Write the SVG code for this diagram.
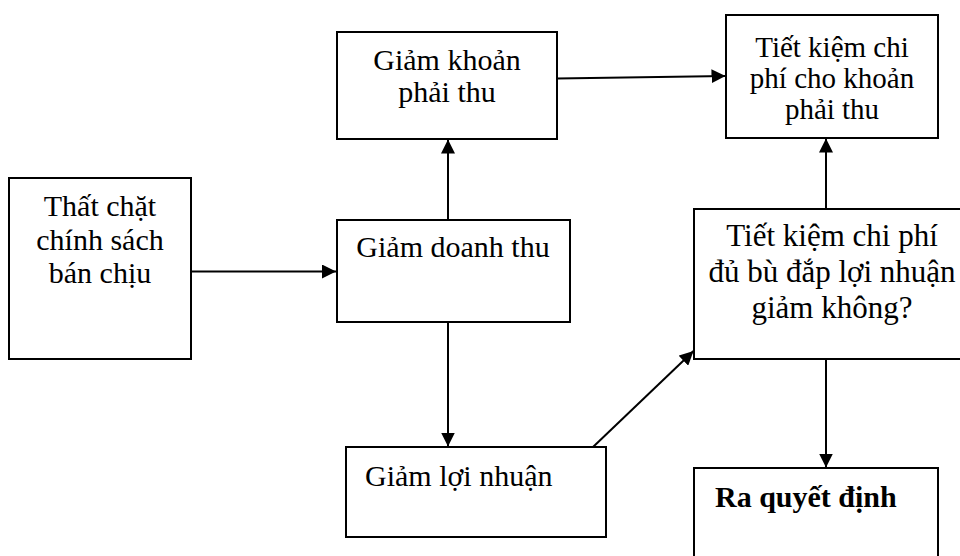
<svg xmlns="http://www.w3.org/2000/svg" width="960" height="556" viewBox="0 0 960 556">
<style>
.box{fill:#fff;stroke:#000;stroke-width:2}
.t{font-family:"Liberation Serif","Times New Roman",serif;font-size:30px;fill:#000}
.c{text-anchor:middle}
.b{font-weight:bold}
.ln{stroke:#000;stroke-width:2;fill:none;marker-end:url(#ah)}
</style>
<defs>
<marker id="ah" markerUnits="userSpaceOnUse" markerWidth="15" markerHeight="14" refX="14" refY="7" orient="auto">
<path d="M0,0 L14,7 L0,14 Z" fill="#000"/>
</marker>
</defs>
<rect width="960" height="556" fill="#fff"/>
<g id="connectors">
<line class="ln" x1="191" y1="271.5" x2="336" y2="271.5"/>
<line class="ln" x1="448" y1="220" x2="448" y2="139.5"/>
<line class="ln" x1="557" y1="78.5" x2="725.5" y2="76"/>
<line class="ln" x1="448" y1="322" x2="448" y2="446.5"/>
<line class="ln" x1="593" y1="447" x2="693.5" y2="351"/>
<line class="ln" x1="826" y1="209" x2="826" y2="138.5"/>
<line class="ln" x1="826" y1="359" x2="826" y2="467.5"/>
</g>
<g id="n1">
<rect class="box" x="9" y="178" width="182" height="181"/>
<text class="t c" x="100" y="216">Thất chặt</text>
<text class="t c" x="100" y="249.5">chính sách</text>
<text class="t c" x="100" y="283">bán chịu</text>
</g>
<g id="n2">
<rect class="box" x="337" y="32" width="220" height="107"/>
<text class="t c" x="447" y="70">Giảm khoản</text>
<text class="t c" x="447" y="102">phải thu</text>
</g>
<g id="n3">
<rect class="box" x="337" y="220" width="233" height="102"/>
<text class="t c" x="453" y="257">Giảm doanh thu</text>
</g>
<g id="n4">
<rect class="box" x="346" y="447" width="260" height="90"/>
<text class="t" x="365" y="486">Giảm lợi nhuận</text>
</g>
<g id="n5">
<rect class="box" x="726" y="15" width="212" height="123"/>
<text class="t c" x="832" y="57" style="font-size:29px">Tiết kiệm chi</text>
<text class="t c" x="832" y="88" style="font-size:29px">phí cho khoản</text>
<text class="t c" x="832" y="119" style="font-size:29px">phải thu</text>
</g>
<g id="n6">
<rect class="box" x="694" y="209" width="280" height="150"/>
<text class="t c" x="832" y="245.5" style="font-size:31px">Tiết kiệm chi phí</text>
<text class="t c" x="832" y="281.5" style="font-size:31px">đủ bù đắp lợi nhuận</text>
<text class="t c" x="832" y="317.5" style="font-size:31px">giảm không?</text>
</g>
<g id="n7">
<rect class="box" x="694" y="468" width="244" height="100"/>
<text class="t b" x="715" y="507">Ra quyết định</text>
</g>
</svg>
